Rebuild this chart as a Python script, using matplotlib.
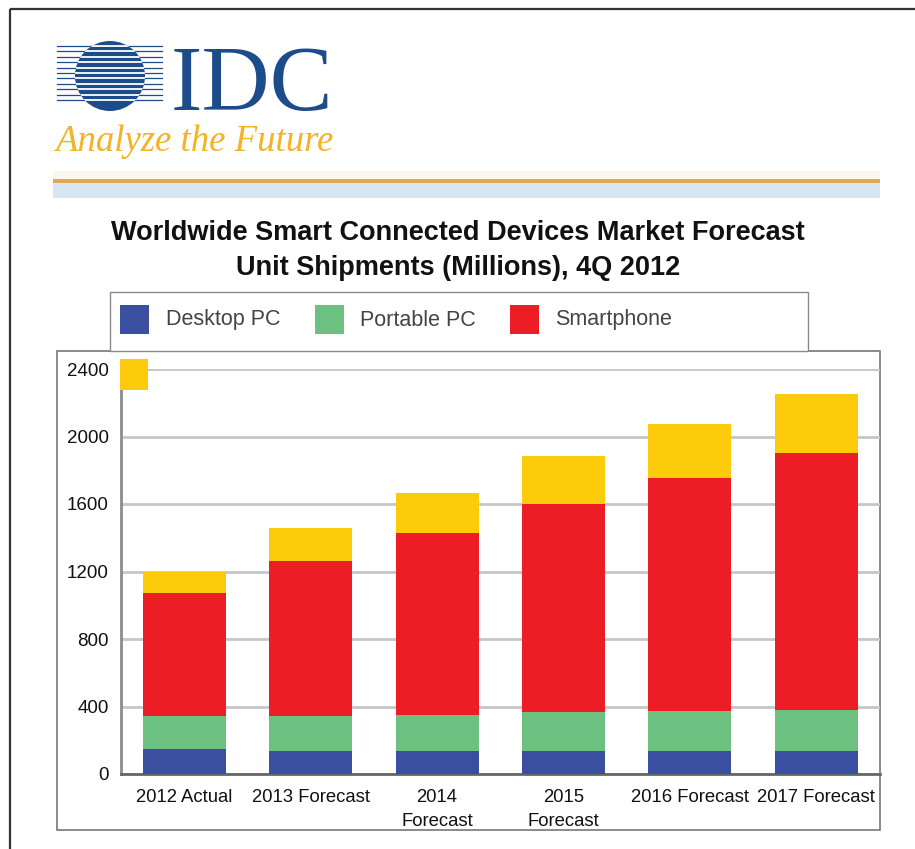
import matplotlib
matplotlib.use("Agg")
import matplotlib.pyplot as plt
from matplotlib.patches import Rectangle, Circle
import numpy as np

# ---- data ----
categories = ["2012 Actual", "2013 Forecast", "2014\nForecast", "2015\nForecast",
              "2016 Forecast", "2017 Forecast"]
desktop_pc = [148, 138, 138, 138, 138, 138]
portable_pc = [198, 206, 212, 228, 237, 241]
smartphone = [725, 919, 1081, 1235, 1382, 1526]
tablet = [129, 196, 237, 281, 317, 347]
series_names = ["Desktop PC", "Portable PC", "Smartphone"]
y_ticks = [0, 400, 800, 1200, 1600, 2000, 2400]
title_lines = ["Worldwide Smart Connected Devices Market Forecast",
               "Unit Shipments (Millions), 4Q 2012"]

BLUE = "#3a4fa0"
GREEN = "#6cc181"
RED = "#ec1d25"
YELLOW = "#fccb0b"

W, H = 915, 849
fig = plt.figure(figsize=(W / 100, H / 100), dpi=100)
fig.patch.set_facecolor("white")

# background overlay in pixel coordinates
bg = fig.add_axes([0, 0, 1, 1], zorder=-1)
bg.set_xlim(0, W)
bg.set_ylim(H, 0)
bg.axis("off")

# outer border
bg.plot([10, 10], [9, H], color="#333333", lw=1.6, solid_capstyle="butt")
bg.plot([10, W], [9, 9], color="#333333", lw=1.6, solid_capstyle="butt")

# ---- IDC logo ----
LOGO_BLUE = "#1d4c8a"
line_ys = np.linspace(46, 100, 11)
for yy in line_ys:
    bg.plot([57, 162], [yy, yy], color=LOGO_BLUE, lw=0.9)
circ = Circle((110, 76), 35, facecolor=LOGO_BLUE, edgecolor="none")
bg.add_patch(circ)
for yy in line_ys:
    ln, = bg.plot([70, 150], [yy, yy], color="white", lw=1.3)
    ln.set_clip_path(circ)
bg.text(171, 110, "IDC", fontsize=68, family="Liberation Serif",
        color=LOGO_BLUE, ha="left", va="baseline")
bg.text(55, 151, "Analyze the Future", fontsize=26.5, family="Liberation Serif",
        style="italic", color="#f4b224", ha="left", va="baseline")

# separator band
bg.add_patch(Rectangle((53, 171), 827, 8, facecolor="#fbf7ef", edgecolor="none"))
bg.add_patch(Rectangle((53, 179), 827, 4, facecolor="#e0a95a", edgecolor="none"))
bg.add_patch(Rectangle((53, 183), 827, 15, facecolor="#d6e7f2", edgecolor="none"))

# title
bg.text(458, 233, title_lines[0], fontsize=19.5, weight="bold",
        family="Liberation Sans", ha="center", va="center", color="#111111")
bg.text(458, 268, title_lines[1], fontsize=19.5, weight="bold",
        family="Liberation Sans", ha="center", va="center", color="#111111")

# chart frame
bg.add_patch(Rectangle((57, 351), 823, 479, facecolor="white",
                       edgecolor="#777777", lw=1.2))
# legend box
bg.add_patch(Rectangle((110, 292), 698, 59, facecolor="white",
                       edgecolor="#8a8a8a", lw=1.0))
leg_colors = [BLUE, GREEN, RED]
leg_sq_x = [120, 315, 510]
leg_tx_x = [166, 360, 555]
for name, c, sx, tx in zip(series_names, leg_colors, leg_sq_x, leg_tx_x):
    bg.add_patch(Rectangle((sx, 305), 29, 29, facecolor=c, edgecolor="none"))
    bg.text(tx, 320, name, fontsize=15.5, family="Liberation Sans",
            color="#444444", ha="left", va="center")

# ---- chart axes ----
L, R, B, T = 121, 880, 774, 369
ax = fig.add_axes([L / W, 1 - B / H, (R - L) / W, (B - T) / H], zorder=1)
ax.set_facecolor("none")
x = np.arange(len(categories))
bw = 0.657
b1 = np.array(desktop_pc)
b2 = b1 + np.array(portable_pc)
b3 = b2 + np.array(smartphone)
ax.bar(x, desktop_pc, width=bw, color=BLUE, zorder=3)
ax.bar(x, portable_pc, width=bw, bottom=b1, color=GREEN, zorder=3)
ax.bar(x, smartphone, width=bw, bottom=b2, color=RED, zorder=3)
ax.bar(x, tablet, width=bw, bottom=b3, color=YELLOW, zorder=3)

ax.set_xlim(-0.502, 5.506)
ax.set_ylim(0, 2400)
ax.set_yticks(y_ticks)
ax.set_yticklabels([str(v) for v in y_ticks], fontsize=13.5,
                   family="Liberation Sans", color="#111111")
ax.set_xticks(x)
ax.set_xticklabels(categories, fontsize=13.3, family="Liberation Sans",
                   color="#111111", linespacing=1.55)
ax.tick_params(axis="y", length=0, pad=9)
ax.tick_params(axis="x", length=0, pad=11)
ax.grid(axis="y", color="#c6c6c6", lw=2, zorder=0)
ax.set_axisbelow(True)
for s in ["top", "right"]:
    ax.spines[s].set_visible(False)
ax.spines["left"].set_color("#8c8c8c")
ax.spines["left"].set_linewidth(2)
ax.spines["bottom"].set_color("#666666")
ax.spines["bottom"].set_linewidth(2)

# top overlay for the clipped tablet legend marker
top = fig.add_axes([0, 0, 1, 1], zorder=5)
top.set_xlim(0, W)
top.set_ylim(H, 0)
top.axis("off")
top.patch.set_alpha(0)
top.add_patch(Rectangle((120, 359), 28, 31, facecolor=YELLOW, edgecolor="none"))

fig.savefig("out.png", dpi=100, facecolor="white")
